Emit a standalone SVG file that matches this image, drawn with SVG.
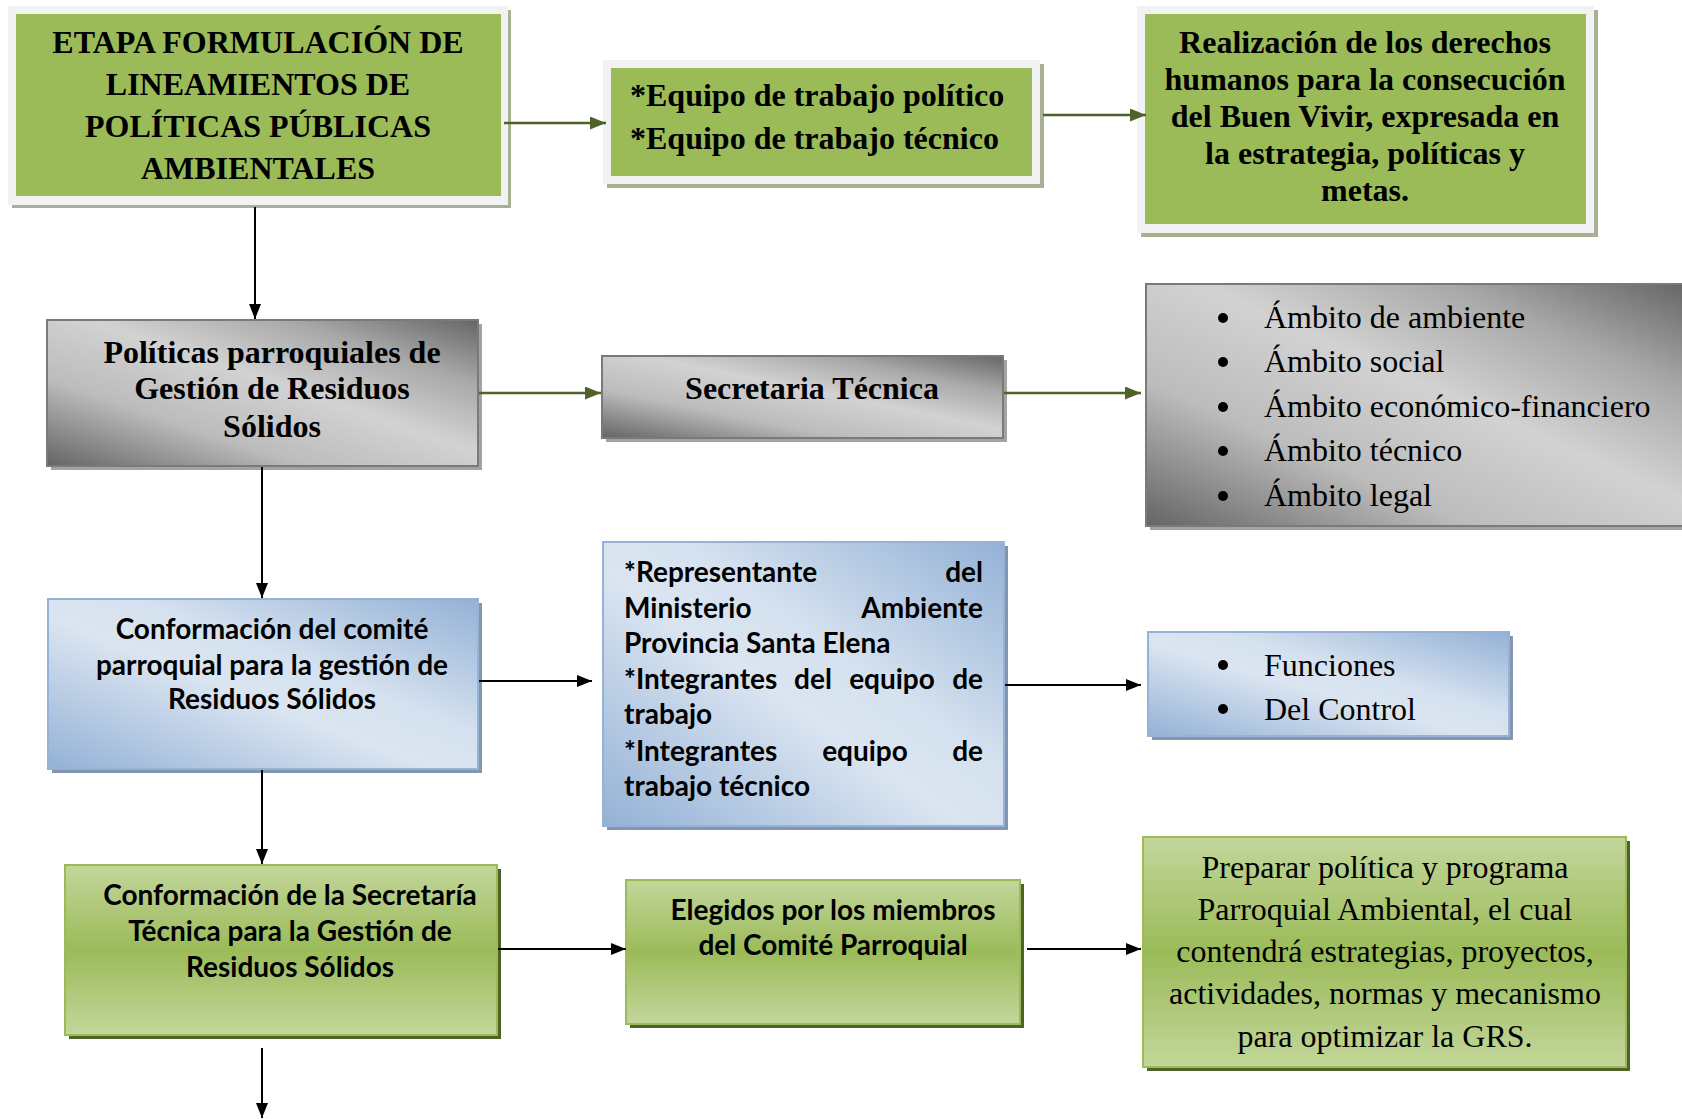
<svg xmlns="http://www.w3.org/2000/svg" width="1682" height="1119" viewBox="0 0 1682 1119">
<style>
.tb{font-family:"Liberation Serif","Times New Roman",serif;font-weight:bold;font-size:32px;fill:#000}
.tr{font-family:"Liberation Serif","Times New Roman",serif;font-size:32px;fill:#000}
.cb{font-family:Lato,"Liberation Sans",sans-serif;font-weight:bold;font-size:28px;fill:#000}
.mid{text-anchor:middle}
.end{text-anchor:end}
.frame{fill:#f2f2f2}
.fshadow{fill:#a9b194}
.green{fill:#9bbb59}
.gray{fill:url(#grayGrad);stroke:#7a7a7a;stroke-width:2}
.gshadow{fill:#a3a3a3}
.blue{fill:url(#blueGrad);stroke:#95b3d7;stroke-width:2}
.bshadow{fill:#8395af}
.lg{fill:url(#greenGrad);stroke:#9bbb59;stroke-width:2}
.lgshadow{fill:#4f6228}
.olive{stroke:#4f6228;stroke-width:2.5;fill:none}
.black{stroke:#000;stroke-width:2;fill:none}
</style>
<defs>
<linearGradient id="grayGrad" x1="0" y1="1" x2="1" y2="0">
<stop offset="0" stop-color="#646464"/>
<stop offset="0.3" stop-color="#bcbcbc"/>
<stop offset="0.55" stop-color="#d2d2d2"/>
<stop offset="0.78" stop-color="#a8a8a8"/>
<stop offset="1" stop-color="#666666"/>
</linearGradient>
<linearGradient id="blueGrad" x1="0" y1="1" x2="1" y2="0">
<stop offset="0" stop-color="#93b1d6"/>
<stop offset="0.45" stop-color="#dbe5f1"/>
<stop offset="0.6" stop-color="#d5e1ef"/>
<stop offset="1" stop-color="#93b1d6"/>
</linearGradient>
<linearGradient id="greenGrad" x1="0" y1="0" x2="0" y2="1">
<stop offset="0" stop-color="#c3d69b"/>
<stop offset="0.5" stop-color="#9bbb59"/>
<stop offset="1" stop-color="#c3d69b"/>
</linearGradient>
<marker id="arrOlive" markerWidth="16" markerHeight="13" refX="16" refY="6.5" orient="auto" markerUnits="userSpaceOnUse">
<path d="M0,0 L16,6.5 L0,13 Z" fill="#4f6228"/>
</marker>
<marker id="arrBlack" markerWidth="15" markerHeight="12" refX="15" refY="6" orient="auto" markerUnits="userSpaceOnUse">
<path d="M0,0 L15,6 L0,12 Z" fill="#000"/>
</marker>
</defs>
<rect width="1682" height="1119" fill="#fff"/>

<g id="etapa">
<rect class="fshadow" x="12" y="10" width="499" height="198"/>
<rect class="frame" x="8" y="6" width="500" height="199"/>
<rect class="green" x="16" y="14" width="485" height="182"/>
<text class="tb mid" x="258" y="53">ETAPA FORMULACIÓN DE</text>
<text class="tb mid" x="258" y="95">LINEAMIENTOS DE</text>
<text class="tb mid" x="258" y="137">POLÍTICAS PÚBLICAS</text>
<text class="tb mid" x="258" y="179">AMBIENTALES</text>
</g>

<g id="equipos">
<rect class="fshadow" x="607" y="64" width="437" height="124"/>
<rect class="frame" x="603" y="60" width="437" height="124"/>
<rect class="green" x="611" y="68" width="421" height="108"/>
<text class="tb" x="630" y="106">*Equipo de trabajo político</text>
<text class="tb" x="630" y="149">*Equipo de trabajo técnico</text>
</g>

<g id="realizacion">
<rect class="fshadow" x="1141" y="10" width="457" height="227"/>
<rect class="frame" x="1137" y="6" width="457" height="227"/>
<rect class="green" x="1145" y="14" width="441" height="210"/>
<text class="tb mid" x="1365" y="53">Realización de los derechos</text>
<text class="tb mid" x="1365" y="90">humanos para la consecución</text>
<text class="tb mid" x="1365" y="127">del Buen Vivir, expresada en</text>
<text class="tb mid" x="1365" y="164">la estrategia, políticas y</text>
<text class="tb mid" x="1365" y="201">metas.</text>
</g>

<g id="politicas">
<rect class="gshadow" x="51" y="324" width="431" height="146"/>
<rect class="gray" x="47" y="320" width="431" height="146"/>
<text class="tb mid" x="272" y="363">Políticas parroquiales de</text>
<text class="tb mid" x="272" y="399">Gestión de Residuos</text>
<text class="tb mid" x="272" y="437">Sólidos</text>
</g>

<g id="secretaria">
<rect class="gshadow" x="606" y="360" width="401" height="82"/>
<rect class="gray" x="602" y="356" width="401" height="82"/>
<text class="tb mid" x="812" y="399">Secretaria Técnica</text>
</g>

<g id="ambitos">
<rect class="gshadow" x="1150" y="288" width="540" height="242"/>
<rect class="gray" x="1146" y="284" width="540" height="242"/>
<g class="tr">
<circle cx="1223" cy="318" r="5"/><text x="1264" y="328">Ámbito de ambiente</text>
<circle cx="1223" cy="362" r="5"/><text x="1264" y="372">Ámbito social</text>
<circle cx="1223" cy="407" r="5"/><text x="1264" y="417">Ámbito económico-financiero</text>
<circle cx="1223" cy="451" r="5"/><text x="1264" y="461">Ámbito técnico</text>
<circle cx="1223" cy="496" r="5"/><text x="1264" y="506">Ámbito legal</text>
</g>
</g>

<g id="comite">
<rect class="bshadow" x="52" y="603" width="430" height="170"/>
<rect class="blue" x="48" y="599" width="430" height="170"/>
<text class="cb mid" x="272" y="639">Conformación del comité</text>
<text class="cb mid" x="272" y="675">parroquial para la gestión de</text>
<text class="cb mid" x="272" y="709">Residuos Sólidos</text>
</g>

<g id="representantes">
<rect class="bshadow" x="607" y="546" width="401" height="284"/>
<rect class="blue" x="603" y="542" width="401" height="284"/>
<text class="cb" x="624" y="582">*Representante</text><text class="cb end" x="983" y="582">del</text>
<text class="cb" x="624" y="618">Ministerio</text><text class="cb end" x="983" y="618">Ambiente</text>
<text class="cb" x="624" y="653">Provincia Santa Elena</text>
<text class="cb" x="624" y="689">*Integrantes</text><text class="cb mid" x="813" y="689">del</text><text class="cb mid" x="892" y="689">equipo</text><text class="cb end" x="983" y="689">de</text>
<text class="cb" x="624" y="724">trabajo</text>
<text class="cb" x="624" y="761">*Integrantes</text><text class="cb mid" x="865" y="761">equipo</text><text class="cb end" x="983" y="761">de</text>
<text class="cb" x="624" y="796">trabajo técnico</text>
</g>

<g id="funciones">
<rect class="bshadow" x="1152" y="636" width="361" height="104"/>
<rect class="blue" x="1148" y="632" width="361" height="104"/>
<g class="tr">
<circle cx="1223" cy="665" r="5"/><text x="1264" y="676">Funciones</text>
<circle cx="1223" cy="709" r="5"/><text x="1264" y="720">Del Control</text>
</g>
</g>

<g id="conformacion-secretaria">
<rect class="lgshadow" x="69" y="869" width="432" height="170"/>
<rect class="lg" x="65" y="865" width="432" height="170"/>
<text class="cb mid" x="290" y="905">Conformación de la Secretaría</text>
<text class="cb mid" x="290" y="941">Técnica para la Gestión de</text>
<text class="cb mid" x="290" y="977">Residuos Sólidos</text>
</g>

<g id="elegidos">
<rect class="lgshadow" x="630" y="884" width="394" height="144"/>
<rect class="lg" x="626" y="880" width="394" height="144"/>
<text class="cb mid" x="833" y="920">Elegidos por los miembros</text>
<text class="cb mid" x="833" y="955">del Comité Parroquial</text>
</g>

<g id="preparar">
<rect class="lgshadow" x="1147" y="841" width="483" height="230"/>
<rect class="lg" x="1143" y="837" width="483" height="230"/>
<text class="tr mid" x="1385" y="878">Preparar política y programa</text>
<text class="tr mid" x="1385" y="920">Parroquial Ambiental, el cual</text>
<text class="tr mid" x="1385" y="962">contendrá estrategias, proyectos,</text>
<text class="tr mid" x="1385" y="1004">actividades, normas y mecanismo</text>
<text class="tr mid" x="1385" y="1047">para optimizar la GRS.</text>
</g>

<g id="connectors">
<line class="olive" x1="504" y1="123" x2="606" y2="123" marker-end="url(#arrOlive)"/>
<line class="olive" x1="1043" y1="115" x2="1146" y2="115" marker-end="url(#arrOlive)"/>
<line class="black" x1="255" y1="207" x2="255" y2="319" marker-end="url(#arrBlack)"/>
<line class="olive" x1="479" y1="393" x2="601" y2="393" marker-end="url(#arrOlive)"/>
<line class="olive" x1="1004" y1="393" x2="1141" y2="393" marker-end="url(#arrOlive)"/>
<line class="black" x1="262" y1="467" x2="262" y2="598" marker-end="url(#arrBlack)"/>
<line class="black" x1="479" y1="681" x2="592" y2="681" marker-end="url(#arrBlack)"/>
<line class="black" x1="1005" y1="685" x2="1141" y2="685" marker-end="url(#arrBlack)"/>
<line class="black" x1="262" y1="770" x2="262" y2="864" marker-end="url(#arrBlack)"/>
<line class="black" x1="498" y1="949" x2="626" y2="949" marker-end="url(#arrBlack)"/>
<line class="black" x1="1027" y1="949" x2="1141" y2="949" marker-end="url(#arrBlack)"/>
<line class="black" x1="262" y1="1048" x2="262" y2="1118" marker-end="url(#arrBlack)"/>
</g>
</svg>
